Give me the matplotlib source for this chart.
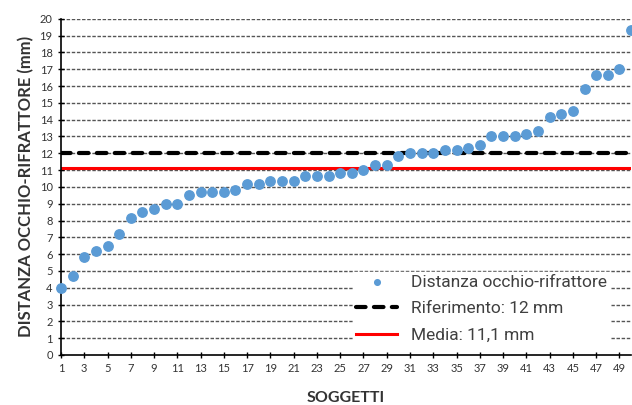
import numpy as np
import matplotlib
matplotlib.use("Agg")
import matplotlib.pyplot as plt
from matplotlib import font_manager

# dati
soggetti = np.arange(1, 51)
distanza = [4.0, 4.67, 5.83, 6.17, 6.5, 7.17, 8.17, 8.5, 8.67, 9.0,
            9.0, 9.5, 9.67, 9.67, 9.67, 9.83, 10.17, 10.17, 10.33, 10.33,
            10.33, 10.67, 10.67, 10.67, 10.83, 10.83, 11.0, 11.33, 11.33, 11.83,
            12.0, 12.0, 12.0, 12.17, 12.17, 12.33, 12.5, 13.0, 13.0, 13.0,
            13.17, 13.33, 14.17, 14.33, 14.5, 15.83, 16.67, 16.67, 17.0, 19.33]
riferimento = 12
media = 11.1

names = {f.name for f in font_manager.fontManager.ttflist}
narrow = 'Liberation Sans Narrow' if 'Liberation Sans Narrow' in names else 'Roboto'

fig = plt.figure(figsize=(6.32, 4.05), dpi=100)
ax = fig.add_axes([0.0965, 0.1235, 0.902, 0.83])

ax.set_xlim(1, 50)
ax.set_ylim(0, 20)

# griglia orizzontale tratteggiata
for v in range(1, 21):
    ax.axhline(v, color='#555555', lw=1.0, ls=(0, (2.5, 1.2)), zorder=1)

ax.axhline(riferimento, color='black', lw=3, ls=(0, (2.3, 2.0)),
           dash_capstyle='round', zorder=2, label='Riferimento: 12 mm')
ax.axhline(media, color='#ff0000', lw=2.2, zorder=2, label='Media: 11,1 mm')
ax.scatter(soggetti, distanza, s=46, color='#5b9bd5', zorder=3,
           clip_on=False, label='Distanza occhio-rifrattore')

ax.set_yticks(range(0, 21))
ax.set_xticks(range(1, 50, 2))
ax.tick_params(axis='both', labelsize=8, labelcolor='#333333',
               direction='inout', length=5, width=1)
for lab in ax.get_xticklabels() + ax.get_yticklabels():
    lab.set_family(['Lato', 'DejaVu Sans'])

for s in ['top', 'right']:
    ax.spines[s].set_visible(False)
ax.spines['left'].set_linewidth(1.2)
ax.spines['bottom'].set_linewidth(1.2)

ax.set_ylabel('DISTANZA OCCHIO-RIFRATTORE (mm)', fontsize=12,
              fontweight='bold', color='#333333', family=['Lato', 'DejaVu Sans'],
              labelpad=4)
ax.set_xlabel('SOGGETTI', fontsize=11.5, fontweight='bold', color='#333333',
              family=['Lato', 'DejaVu Sans'], labelpad=12)

h, l = ax.get_legend_handles_labels()
order = [2, 0, 1]
leg = ax.legend([h[i] for i in order], [l[i] for i in order],
                loc='lower right', bbox_to_anchor=(0.978, 0.003),
                frameon=True, framealpha=1, edgecolor='white', fancybox=False,
                handlelength=2.4, handletextpad=0.8, labelspacing=0.65,
                markerscale=0.6, borderpad=0.15,
                prop={'family': [narrow, 'DejaVu Sans'], 'size': 12.5})
for t in leg.get_texts():
    t.set_color('#404040')
leg.set_zorder(5)

fig.savefig('out.png', dpi=100)
